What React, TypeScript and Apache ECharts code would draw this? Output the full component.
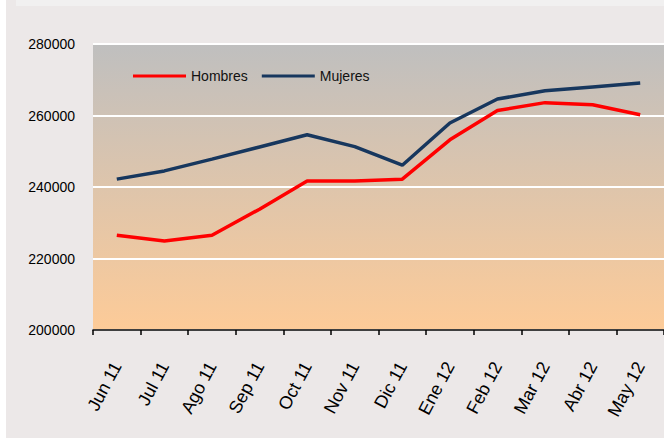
import React, { useEffect, useRef } from "react";
import * as echarts from "echarts";

const categories = ["Jun 11", "Jul 11", "Ago 11", "Sep 11", "Oct 11", "Nov 11", "Dic 11", "Ene 12", "Feb 12", "Mar 12", "Abr 12", "May 12"];
const hombres = [226500, 224900, 226500, 233800, 241700, 241700, 242200, 253200, 261400, 263600, 263000, 260200];
const mujeres = [242200, 244500, 247800, 251200, 254600, 251300, 246100, 257900, 264600, 266900, 268000, 269100];
const yTicks = { min: 200000, max: 280000, interval: 20000 };

const FONT = "'Liberation Sans', Arial, sans-serif";

export default function App() {
  const ref = useRef<HTMLDivElement>(null);
  useEffect(() => {
    if (!ref.current) return;
    const chart = echarts.init(ref.current, null, { renderer: "svg" });
    chart.setOption({
      animation: false,
      backgroundColor: "transparent",
      graphic: [
        { type: "rect", z: -10, silent: true, shape: { x: 6, y: 0, width: 658, height: 438 }, style: { fill: "#ece8e8" } },
        { type: "rect", z: -9, silent: true, shape: { x: 16, y: 0, width: 648, height: 6 }, style: { fill: "#f1f0f0" } },
      ],
      grid: {
        left: 93,
        right: -8,
        top: 44,
        bottom: 109,
        show: true,
        borderWidth: 0,
        backgroundColor: new echarts.graphic.LinearGradient(0, 0, 0, 1, [
          { offset: 0, color: "#bfbfbf" },
          { offset: 1, color: "#fdcb98" },
        ]),
      },
      legend: {
        left: 133,
        top: 69,
        padding: 0,
        icon: "rect",
        itemWidth: 53,
        itemHeight: 3,
        itemGap: 14,
        textStyle: { fontFamily: FONT, fontSize: 14, color: "#111" },
        data: ["Hombres", "Mujeres"],
      },
      xAxis: {
        type: "category",
        data: categories,
        boundaryGap: true,
        axisLine: { lineStyle: { color: "#000", width: 1.5 } },
        axisTick: { show: true, length: 5, lineStyle: { color: "#000", width: 1.5 } },
        axisLabel: {
          interval: 0,
          rotate: 62,
          fontFamily: FONT,
          fontSize: 18,
          color: "#000",
          margin: 33,
        },
      },
      yAxis: {
        type: "value",
        min: yTicks.min,
        max: yTicks.max,
        interval: yTicks.interval,
        axisLine: { show: false },
        axisTick: { show: false },
        axisLabel: {
          fontFamily: FONT,
          fontSize: 14,
          color: "#000",
          margin: 18,
          formatter: (v: number) => String(v),
        },
        splitLine: { lineStyle: { color: "#ffffff", width: 2 } },
      },
      series: [
        {
          name: "Hombres",
          type: "line",
          data: hombres,
          showSymbol: false,
          symbol: "none",
          lineStyle: { color: "#ff0000", width: 3.5 },
          itemStyle: { color: "#ff0000" },
        },
        {
          name: "Mujeres",
          type: "line",
          data: mujeres,
          showSymbol: false,
          symbol: "none",
          lineStyle: { color: "#17375e", width: 3.5 },
          itemStyle: { color: "#17375e" },
        },
      ],
    });
    return () => chart.dispose();
  }, []);
  return (
    <div
      ref={ref}
      style={{ position: "absolute", left: 0, top: 0, width: 664, height: 439 }}
    />
  );
}
